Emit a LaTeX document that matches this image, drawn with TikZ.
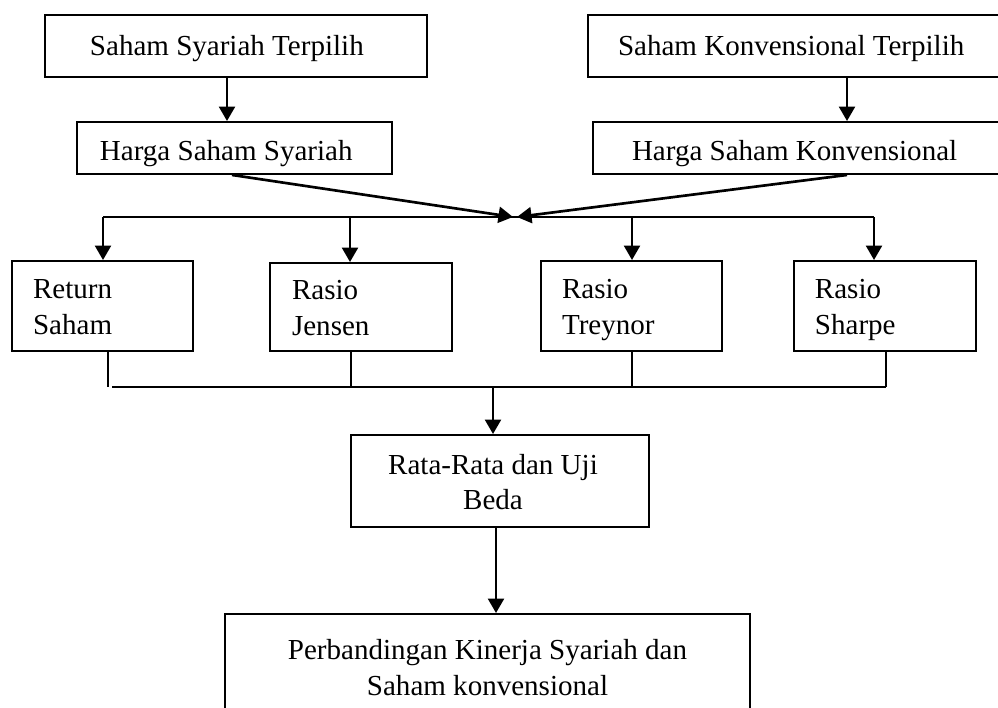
\documentclass[tikz,border=0pt]{standalone}
\usepackage{fontspec}
\setmainfont{Liberation Serif}
\usetikzlibrary{arrows.meta}
\newlength\px
\setlength\px{0.4133pt}
\newcommand\tallstrut[1]{\rule{0pt}{#1}}
\tikzset{
  box/.style={draw,line width=0.8pt,inner sep=0pt,align=flush left},
  arr/.style={-{Triangle[length=6pt,width=6.6pt]},line width=1.1pt},
  link/.style={line width=0.8pt}
}
\begin{document}
\begin{tikzpicture}[x=0.4133pt,y=-0.4133pt,font=\fontsize{12}{14.8}\selectfont]
  \clip (0,0) rectangle (998,707);
  \fill[white] (0,0) rectangle (998,707);
  \node[box,minimum width=382\px,minimum height=62\px,text width=120.7pt] (sya) at (236,46) {\tallstrut{12pt}Saham Syariah Terpilih\strut};
  \node[box,minimum width=414\px,minimum height=62\px,text width=146.3pt] (kon) at (795,46) {\tallstrut{12pt}Saham Konvensional Terpilih\strut};
  \node[box,minimum width=315\px,minimum height=52\px,text width=111.2pt] (hsya) at (234.5,148) {\tallstrut{14.5pt}Harga Saham Syariah\strut};
  \node[box,minimum width=409\px,minimum height=52\px,text width=136.8pt] (hkon) at (797.5,148) {\tallstrut{14.5pt}Harga Saham Konvensional\strut};
  \node[box,minimum width=181\px,minimum height=90\px,text width=57.4pt] (ret) at (102.5,306) {\tallstrut{13pt}Return\\Saham\strut};
  \node[box,minimum width=182\px,minimum height=88\px,text width=57pt] (jen) at (361,307) {\tallstrut{13pt}Rasio\\Jensen\strut};
  \node[box,minimum width=181\px,minimum height=90\px,text width=57.4pt] (tre) at (631.5,306) {\tallstrut{13pt}Rasio\\Treynor\strut};
  \node[box,minimum width=182\px,minimum height=90\px,text width=57.9pt] (sha) at (885,306) {\tallstrut{13pt}Rasio\\Sharpe\strut};
  \node[box,align=center,minimum width=298\px,minimum height=92\px] (rata) at (500,481) {\tallstrut{13.5pt}Rata-Rata dan Uji\hspace*{14\px}\\Beda\hspace*{14\px}\strut};
  \node[box,align=center,minimum width=525\px,minimum height=112\px] (bot) at (487.5,670) {Perbandingan Kinerja Syariah dan\strut\\Saham konvensional\strut};
  \draw[arr] (227,0 |- sya.south) -- (227,0 |- hsya.north);
  \draw[arr] (847,0 |- kon.south) -- (847,0 |- hkon.north);
  \coordinate (meet) at (515,217);
  \coordinate (meetl) at (513,217);
  \coordinate (meetr) at (517,217);
  \draw[arr] (232,0 |- hsya.south) -- (meetl);
  \draw[arr] (847,0 |- hkon.south) -- (meetr);
  \draw[link] (103,0 |- meet) -- (874,0 |- meet);
  \foreach \xx/\nn in {103/ret,350/jen,632/tre,874/sha}
    \draw[arr] (\xx,0 |- meet) -- (\xx,0 |- \nn.north);
  \coordinate (join) at (493,387);
  \foreach \xx/\nn in {108/ret,351/jen,632/tre,886/sha}
    \draw[link] (\xx,0 |- \nn.south) -- (\xx,0 |- join);
  \draw[link] (112,0 |- join) -- (886,0 |- join);
  \draw[arr] (join) -- (join |- rata.north);
  \draw[arr] (496,0 |- rata.south) -- (496,0 |- bot.north);
\end{tikzpicture}
\end{document}
